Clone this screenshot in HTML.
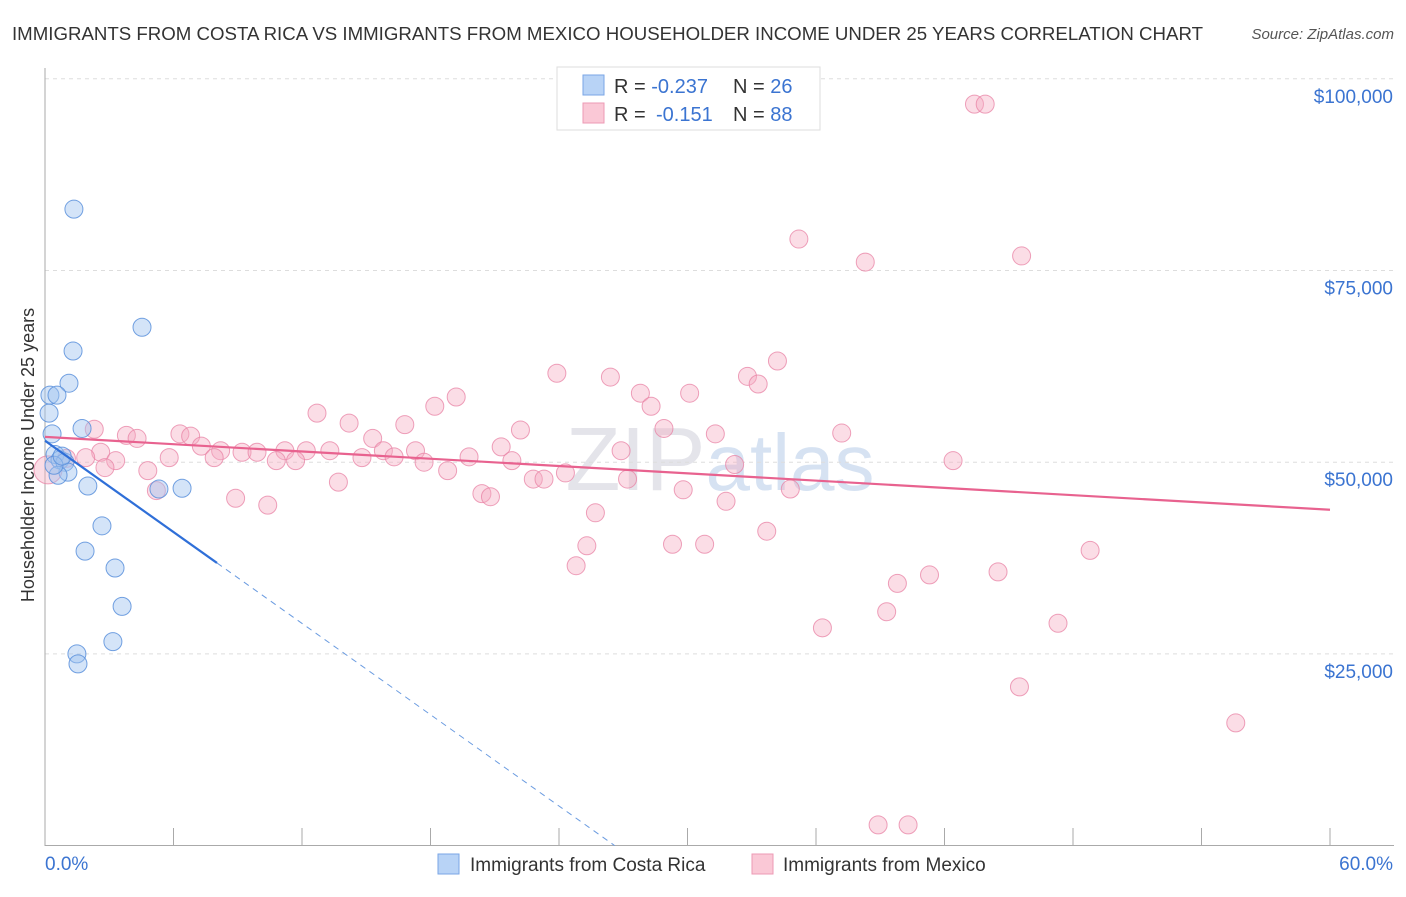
<!DOCTYPE html>
<html><head><meta charset="utf-8"><style>
body{margin:0;background:#fff;font-family:"Liberation Sans",sans-serif;}
svg text{font-family:"Liberation Sans",sans-serif;}
</style></head><body>
<svg id="chart" width="1406" height="892">
<text x="12" y="40" font-size="18.5" fill="#333" textLength="1191" lengthAdjust="spacingAndGlyphs">IMMIGRANTS FROM COSTA RICA VS IMMIGRANTS FROM MEXICO HOUSEHOLDER INCOME UNDER 25 YEARS CORRELATION CHART</text>
<text x="1394" y="39" font-size="15" fill="#555" font-style="italic" text-anchor="end">Source: ZipAtlas.com</text>
<text x="720" y="490" font-size="90" fill="#e4e4ea" text-anchor="middle" font-family="Liberation Serif">ZIP<tspan fill="#d6e2f2" font-family="Liberation Sans" font-size="80">atlas</tspan></text>
<text transform="translate(34,455) rotate(-90)" font-size="18" fill="#333" text-anchor="middle">Householder Income Under 25 years</text>
<g id="grid"></g><g id="pts"></g><g id="lines"></g>
<g>
<rect x="557" y="67" width="263" height="63" fill="#fff" stroke="#ddd"/>
<rect x="583" y="75" width="21" height="20" fill="#b8d3f6" stroke="#7aa6e6"/>
<rect x="583" y="103" width="21" height="20" fill="#fac8d6" stroke="#ec9ab4"/>
<text x="614" y="93" font-size="20" fill="#333">R = <tspan fill="#3b74d1">-0.237</tspan><tspan x="733">N = </tspan><tspan fill="#3b74d1">26</tspan></text>
<text x="614" y="121" font-size="20" fill="#333">R = <tspan x="656" fill="#3b74d1">-0.151</tspan><tspan x="733">N = </tspan><tspan fill="#3b74d1">88</tspan></text>
</g>
<g>
<rect x="438" y="854" width="21" height="20" fill="#b8d3f6" stroke="#7aa6e6"/>
<text x="470" y="871" font-size="19" fill="#333">Immigrants from Costa Rica</text>
<rect x="752" y="854" width="21" height="20" fill="#fac8d6" stroke="#ec9ab4"/>
<text x="783" y="871" font-size="19" fill="#333">Immigrants from Mexico</text>
</g>
</svg>
<script>
const yTicks=[25000,50000,75000,100000];
const yTickLabels=["$25,000","$50,000","$75,000","$100,000"];
const xTickLabels=["0.0%","60.0%"];
const blueX=[1.35,4.53,1.31,1.12,0.23,0.56,0.19,1.73,0.33,0.47,0.7,0.93,1.07,0.61,2.0,5.32,6.4,2.66,1.87,3.27,3.6,3.17,1.49,1.54,0.42,0.8];
const blueY=[83000,67600,64500,60300,58750,58750,56400,54400,53700,51000,50300,50000,48700,48300,46900,46500,46600,41700,38400,36200,31200,26600,25000,23700,49600,50800];
const pinkX=[43.4,43.9,35.2,38.3,45.6,34.2,23.9,26.4,32.8,33.3,27.8,30.1,19.2,18.2,12.7,28.3,14.2,16.8,2.3,22.2,28.9,3.8,4.3,6.3,6.8,31.3,37.2,15.3,7.3,21.3,8.2,9.2,9.9,11.2,12.2,13.3,15.8,17.3,26.9,2.6,7.9,10.8,11.7,14.8,16.3,17.7,19.8,21.8,32.2,42.4,5.8,3.3,1.9,2.8,4.8,18.8,24.3,22.8,23.3,27.2,13.7,20.4,20.8,29.8,34.8,5.2,8.9,10.4,31.8,25.7,33.7,25.3,29.3,30.8,48.8,24.8,41.3,44.5,39.8,39.3,47.3,36.3,45.5,55.6,38.9,40.3,0.14,1.0];
const pinkY=[96700,96700,79100,76100,76900,63200,61600,61100,61200,60200,59000,59000,58500,57300,56400,57300,55100,54900,54300,54200,54400,53500,53100,53700,53400,53700,53800,53100,52100,52000,51500,51300,51300,51500,51500,51500,51500,51500,51500,51300,50600,50200,50200,50600,50700,50000,50700,50200,49700,50200,50600,50200,50600,49300,48900,48900,48600,47800,47800,47800,47400,45900,45500,46400,46500,46300,45300,44400,44900,43400,41000,39100,39300,39300,38500,36500,35300,35700,34200,30500,29000,28400,20700,16000,2700,2700,49000,50500];
const pinkTrend=[53300,43800];
const blueTrend=[52800,-1985];
const X=p=>45+p/60*1285;
const Y=v=>845.6-v/25000*191.7;
const NS="http://www.w3.org/2000/svg";
function mk(t,a,parent){const e=document.createElementNS(NS,t);for(const k in a)e.setAttribute(k,a[k]);parent.appendChild(e);return e;}
const grid=document.getElementById('grid');
yTicks.forEach((v,i)=>{
 const l=mk('line',{x1:45,x2:1394,y1:Y(v),y2:Y(v),stroke:'#ddd','stroke-dasharray':'4,4'},grid);
 
 
 const t=mk('text',{x:1393,y:Y(v)+24,'font-size':19,fill:'#3b74d1','text-anchor':'end'},grid);
 t.textContent=yTickLabels[i];
 
 
});
mk('line',{x1:45,x2:45,y1:68,y2:846,stroke:'#aaa'},grid);
mk('line',{x1:45,x2:1394,y1:845.5,y2:845.5,stroke:'#aaa'},grid);
for(let i=0;i<=10;i++){const x=X(i*6);mk('line',{x1:x,x2:x,y1:828,y2:846,stroke:'#aaa'},grid);}
xTickLabels.forEach((s,i)=>{
 const t=mk('text',{x:i?1393:45,y:870,'font-size':19,fill:'#3b74d1','text-anchor':i?'end':'start'},grid);
 t.textContent=s;
 
 
});
const pts=document.getElementById('pts');
pinkX.forEach((x,i)=>{
 const big=i===pinkX.length-2;
 const c=mk('circle',{cx:X(x),cy:Y(pinkY[i]),r:big?14:9,fill:'rgba(244,170,192,0.4)',stroke:'rgba(232,130,164,0.75)','stroke-width':1},pts);
 
 
});
blueX.forEach((x,i)=>{
 const c=mk('circle',{cx:X(x),cy:Y(blueY[i]),r:9,fill:'rgba(160,196,240,0.45)',stroke:'rgba(90,145,220,0.85)','stroke-width':1},pts);
 
 
});
const lines=document.getElementById('lines');
const pl=mk('line',{x1:X(0),y1:Y(pinkTrend[0]),x2:X(60),y2:Y(pinkTrend[1]),stroke:'#e8628f','stroke-width':2.2},lines);


const bv=x=>blueTrend[0]+blueTrend[1]*x;
const bl=mk('line',{x1:X(0),y1:Y(bv(0)),x2:X(8.03),y2:Y(bv(8.03)),stroke:'#2f6fd8','stroke-width':2.2},lines);


const z=-blueTrend[0]/blueTrend[1];
const bd=mk('line',{x1:X(8.03),y1:Y(bv(8.03)),x2:X(z),y2:Y(0),stroke:'#6a9be0','stroke-width':1,'stroke-dasharray':'6,5'},lines);


</script>
</body></html>
